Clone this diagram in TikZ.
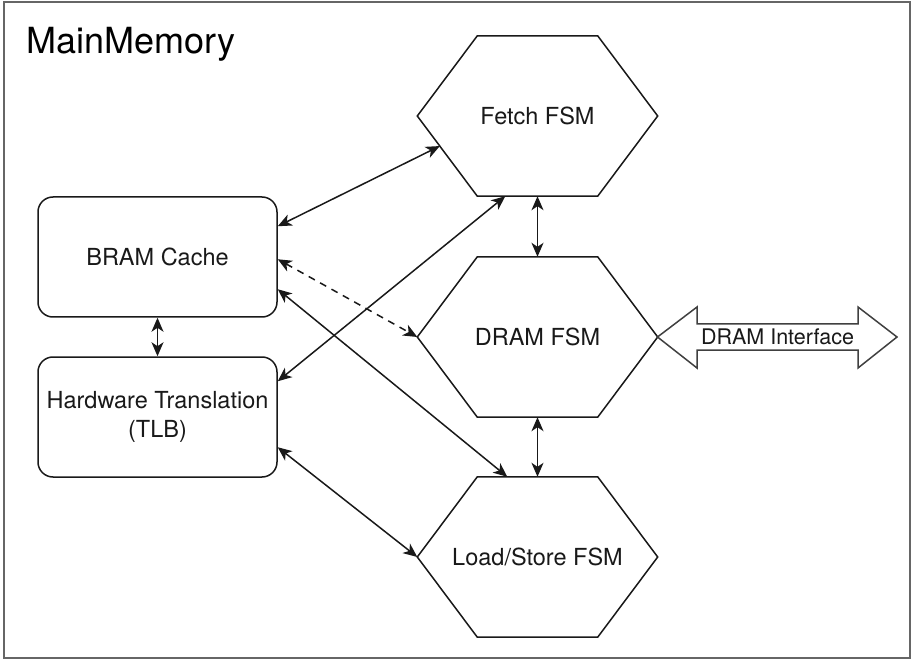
\documentclass[tikz,border=0pt]{standalone}
\usepackage{fontspec}
\setmainfont{TeX Gyre Heros}
\usetikzlibrary{calc,arrows.meta}

% flat-topped hexagon drawn around a rectangular node
\newcommand\hexoutline[1]{%
  \draw[hexline] (#1.west) -- ($(#1.north west)+(60,0)$) -- ($(#1.north east)+(-60,0)$)
    -- (#1.east) -- ($(#1.south east)+(-60,0)$) -- ($(#1.south west)+(60,0)$) -- cycle;}

\begin{document}
\begin{tikzpicture}[x=1pt,y=-1pt,
  every node/.style={font=\fontsize{23.5}{29}\selectfont, text=black!90},
  boxnode/.style={draw=black!90, line width=1.5pt, rounded corners=15pt,
    minimum width=239pt, minimum height=120pt, inner sep=0pt, align=center},
  hexnode/.style={minimum width=240pt, minimum height=160pt, inner sep=0pt},
  hexline/.style={draw=black!90, line width=1.5pt, fill=white},
  tip/.tip={Stealth[length=14pt,width=12pt,inset=4pt]},
  link/.style={draw=black!90, line width=1.5pt, tip-tip},
  blockarrow/.style={draw=black!75, line width=1.5pt, fill=white, line join=miter},
  frame/.style={draw=black!60, line width=2pt}
]
\useasboundingbox (0,0) rectangle (913,660);

% outer container
\draw[frame] (4,2) rectangle (910,658);
\node[anchor=base west, font=\fontsize{36}{40}\selectfont, text=black] (title) at (23,54) {MainMemory};

% left-hand blocks
\node[boxnode] (bram) at (157.5,257) {BRAM Cache};
\node[boxnode] (tlb) at (157.5,417) {Hardware Translation\\(TLB)};

% state machines
\node[hexnode] (fetch) at (537.5,116) {};
\node[hexnode] (dram) at (537.5,337) {};
\node[hexnode] (load) at (537.5,557) {};
\hexoutline{fetch}
\hexoutline{dram}
\hexoutline{load}
\node at (fetch) {Fetch FSM};
\node at (dram) {DRAM FSM};
\node at (load) {Load/Store FSM};

% external interface (double block arrow)
\node[font=\fontsize{21.5}{24}\selectfont] (iface) at (777.5,337) {};
\draw[blockarrow]
  ($(iface)+(-120,0)$) -- ($(iface)+(-80.5,-30)$) -- ($(iface)+(-80.5,-13)$)
  -- ($(iface)+(80.5,-13)$) -- ($(iface)+(80.5,-30)$) -- ($(iface)+(119.5,0)$)
  -- ($(iface)+(80.5,31)$) -- ($(iface)+(80.5,13)$) -- ($(iface)+(-80.5,13)$)
  -- ($(iface)+(-80.5,31)$) -- cycle;
\node[font=\fontsize{21.5}{24}\selectfont] at (iface) {DRAM Interface};

% connections
\draw[link] ($(bram.north east)+(0,30)$) -- ($(fetch.west)!0.375!($(fetch.south west)+(60,0)$)$);
\draw[link] ($(tlb.north east)+(0,25)$) -- ($(fetch.south west)+(88,0)$);
\draw[link, dashed, dash pattern=on 7pt off 6pt] ($(bram.north east)+(0,63)$) -- (dram.west);
\draw[link] ($(bram.north east)+(0,93)$) -- ($(load.north west)+(90,0)$);
\draw[link] ($(tlb.north east)+(0,91)$) -- (load.west);
\draw[link] (fetch.south) -- (dram.north);
\draw[link] (dram.south) -- (load.north);
\draw[link] (bram.south) -- (tlb.north);
\end{tikzpicture}
\end{document}
